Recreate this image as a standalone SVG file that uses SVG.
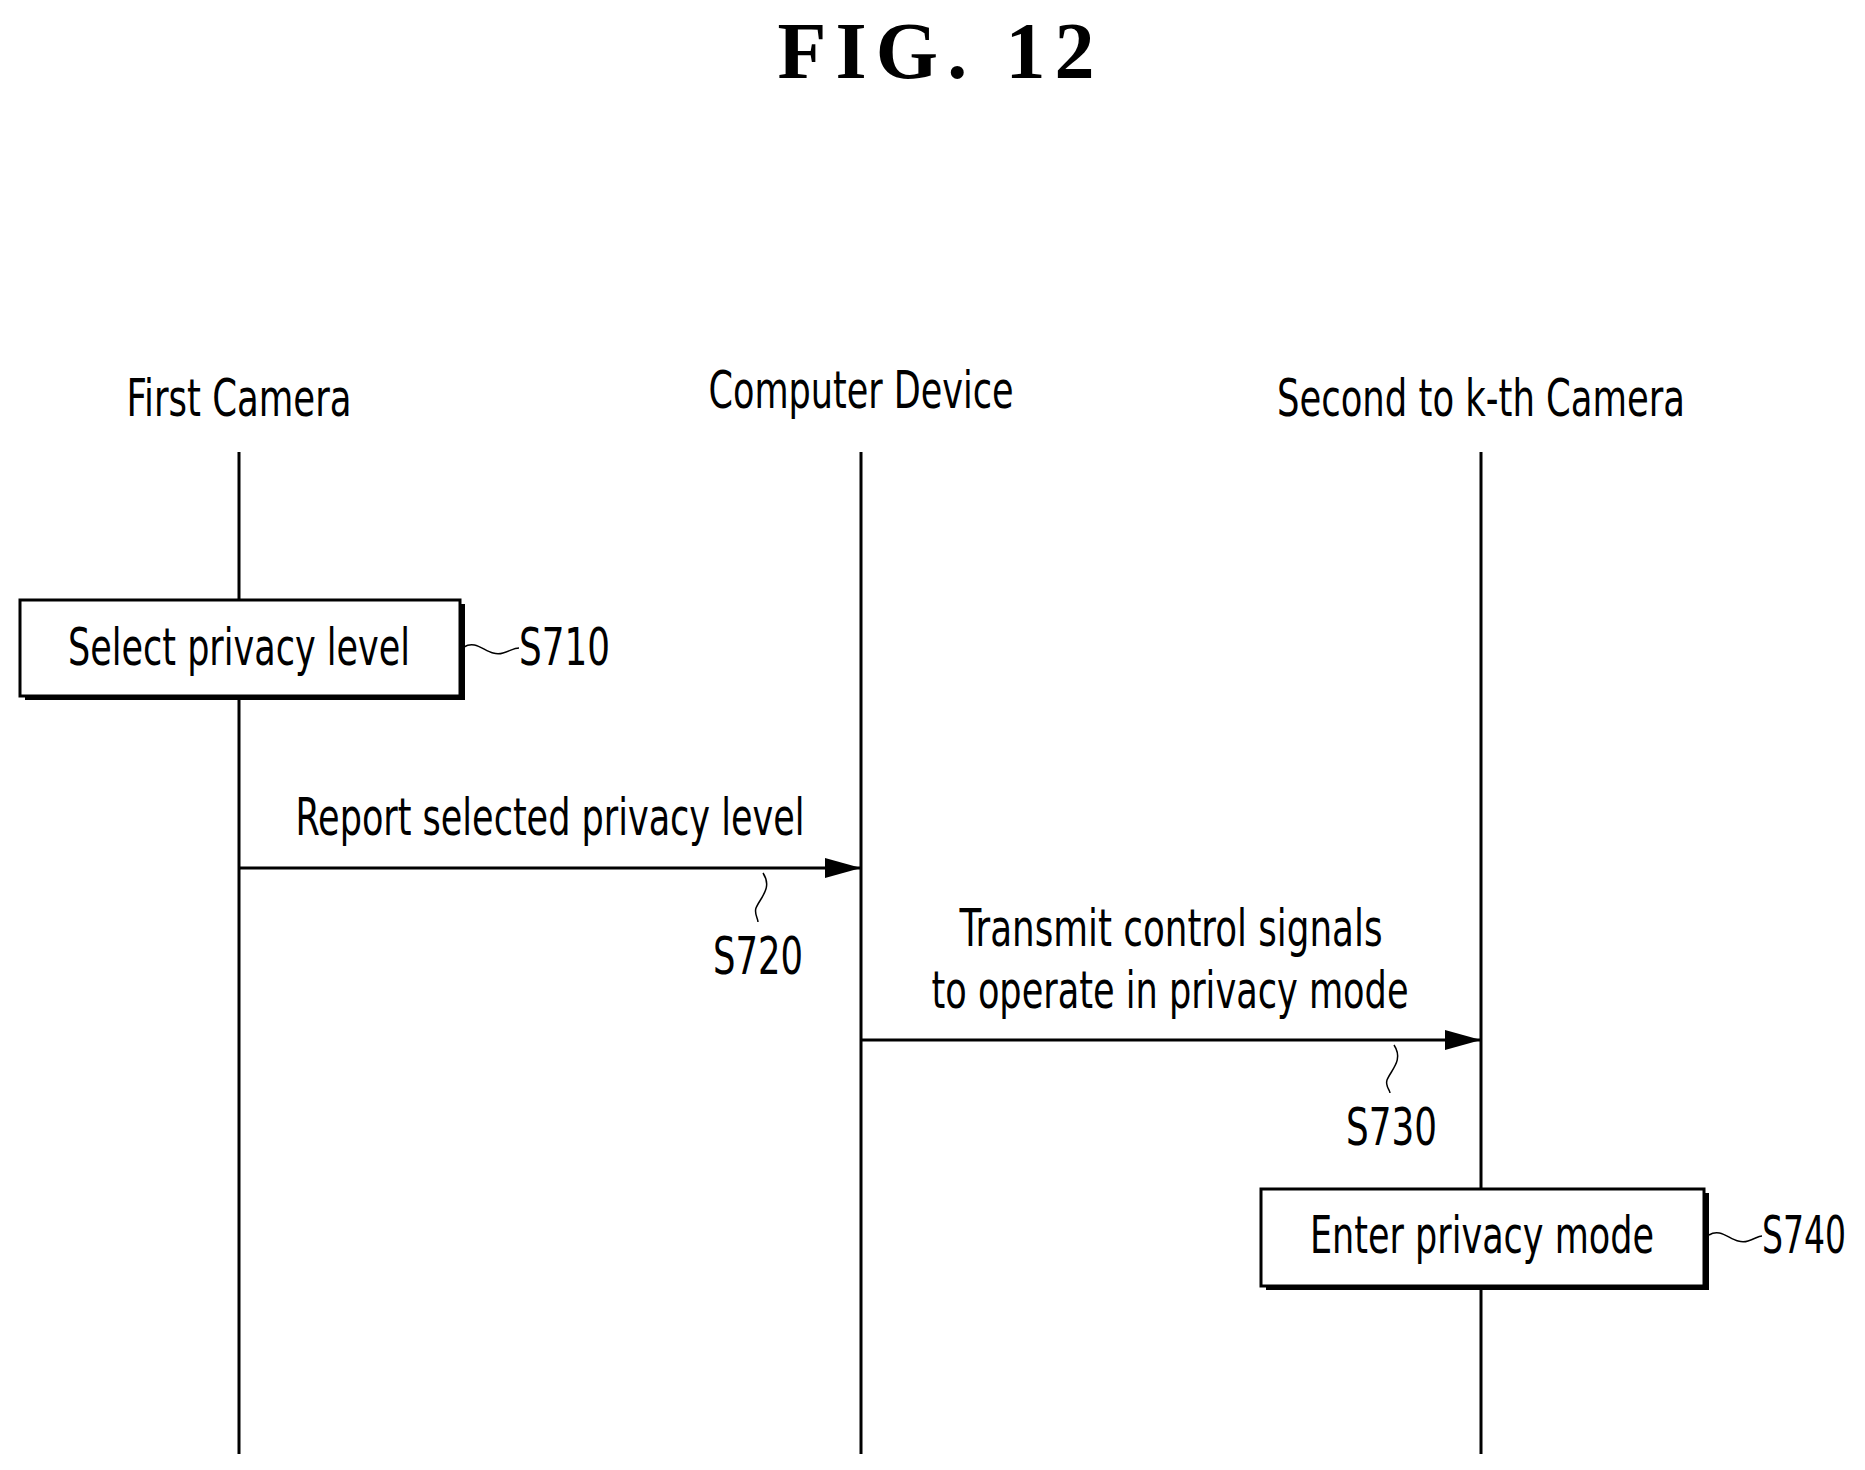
<svg xmlns="http://www.w3.org/2000/svg" width="1865" height="1470" viewBox="0 0 1865 1470">
<style>
.t{font-family:"DejaVu Sans Condensed","Liberation Sans",sans-serif;font-size:52px;fill:#000}
.l{stroke:#000;stroke-width:3;fill:none}
.s{stroke:#000;stroke-width:1.5;fill:none}
.b{fill:#fff;stroke:#000;stroke-width:3}
</style>
<defs><marker id="ah" markerWidth="36" markerHeight="20" refX="36" refY="10" orient="auto" markerUnits="userSpaceOnUse"><path d="M0,0 L36,10 L0,20 Z" fill="#000"/></marker></defs>
<rect width="1865" height="1470" fill="#fff"/>
<text x="936" y="78" text-anchor="middle" font-family="Liberation Serif,serif" font-weight="bold" font-size="80" textLength="317" lengthAdjust="spacing">FIG.  12</text>
<g transform="translate(-2,-2)">
<g id="lifelines">
<line class="l" x1="241" y1="454" x2="241" y2="1456"/>
<line class="l" x1="863" y1="454" x2="863" y2="1456"/>
<line class="l" x1="1483" y1="454" x2="1483" y2="1456"/>
</g>
<g id="first-camera"><text class="t" x="241" y="418" text-anchor="middle" textLength="225" lengthAdjust="spacingAndGlyphs">First Camera</text></g>
<g id="computer-device"><text class="t" x="863" y="410" text-anchor="middle" textLength="305" lengthAdjust="spacingAndGlyphs">Computer Device</text></g>
<g id="second-camera"><text class="t" x="1483" y="418" text-anchor="middle" textLength="408" lengthAdjust="spacingAndGlyphs">Second to k-th Camera</text></g>
<g id="s710">
<rect x="27" y="606" width="440" height="96" fill="#000"/>
<rect class="b" x="22" y="602" width="440" height="96"/>
<text class="t" x="241" y="667" text-anchor="middle" textLength="342" lengthAdjust="spacingAndGlyphs">Select privacy level</text>
<path class="s" d="M466,649 C480,640 490,660 505,655 C512,653 516,650 521,650"/>
<text class="t" x="521" y="667" textLength="91" lengthAdjust="spacingAndGlyphs">S710</text>
</g>
<g id="s740">
<rect x="1268" y="1195" width="443" height="97" fill="#000"/>
<rect class="b" x="1263" y="1191" width="443" height="97"/>
<text class="t" x="1484" y="1255" text-anchor="middle" textLength="344" lengthAdjust="spacingAndGlyphs">Enter privacy mode</text>
<path class="s" d="M1711,1237 C1725,1228 1735,1248 1750,1243 C1757,1241 1760,1238 1764,1238"/>
<text class="t" x="1764" y="1255" textLength="84" lengthAdjust="spacingAndGlyphs">S740</text>
</g>
<g id="connectors">
<line class="l" x1="241" y1="870" x2="863" y2="870" marker-end="url(#ah)"/>
<text class="t" x="552" y="837" text-anchor="middle" textLength="509" lengthAdjust="spacingAndGlyphs">Report selected privacy level</text>
<path class="s" d="M765,875 C775,890 762,900 758,910 C756,916 760,920 760,924"/>
<text class="t" x="715" y="976" textLength="90" lengthAdjust="spacingAndGlyphs">S720</text>
<line class="l" x1="863" y1="1042" x2="1483" y2="1042" marker-end="url(#ah)"/>
<text class="t" x="1173" y="948" text-anchor="middle" textLength="423" lengthAdjust="spacingAndGlyphs">Transmit control signals</text>
<text class="t" x="1172" y="1010" text-anchor="middle" textLength="477" lengthAdjust="spacingAndGlyphs">to operate in privacy mode</text>
<path class="s" d="M1396,1047 C1406,1062 1393,1072 1389,1082 C1387,1088 1392,1092 1392,1095"/>
<text class="t" x="1348" y="1147" textLength="91" lengthAdjust="spacingAndGlyphs">S730</text>
</g>
</g>
</svg>
